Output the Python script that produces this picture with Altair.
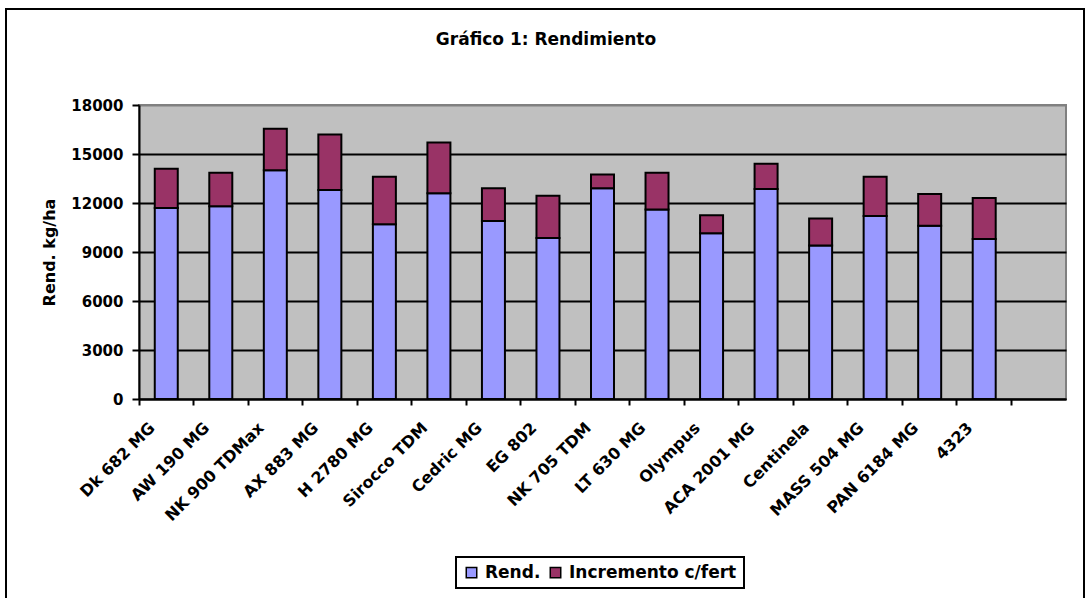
import altair as alt
import pandas as pd

categorias = ["Dk 682 MG", "AW 190 MG", "NK 900 TDMax", "AX 883 MG", "H 2780 MG",
              "Sirocco TDM", "Cedric MG", "EG 802", "NK 705 TDM", "LT 630 MG",
              "Olympus", "ACA 2001 MG", "Centinela", "MASS 504 MG", "PAN 6184 MG", "4323"]
rend = [11700, 11800, 14000, 12800, 10700, 12600, 10900, 9850, 12900, 11600,
        10150, 12850, 9400, 11200, 10600, 9800]
incremento = [2400, 2050, 2550, 3400, 2900, 3100, 2000, 2600, 850, 2250,
              1100, 1550, 1650, 2400, 1950, 2500]
series = ["Rend.", "Incremento c/fert"]
colores = ["#9999FF", "#993366"]
y_ticks = [0, 3000, 6000, 9000, 12000, 15000, 18000]

dominio_x = categorias + [" "]

rows = []
for c, r, i in zip(categorias, rend, incremento):
    rows.append({"cat": c, "serie": series[0], "valor": r, "orden": 0})
    rows.append({"cat": c, "serie": series[1], "valor": i, "orden": 1})
df = pd.DataFrame(rows)

FONT = "DejaVu Sans"

bars = alt.Chart(df).mark_bar(size=23, stroke="black", strokeWidth=2).encode(
    x=alt.X("cat:N", sort=dominio_x,
            scale=alt.Scale(domain=dominio_x, paddingInner=0, paddingOuter=0),
            axis=alt.Axis(title=None, labelAngle=-45, labelAlign="right", labelBaseline="middle",
                          bandPosition=0, labelPadding=20, labelOffset=-14,
                          labelFont=FONT, labelFontSize=16, labelFontWeight="bold",
                          labelColor="black", labelOverlap=False, tickSize=6, tickWidth=2,
                          tickColor="black", domainColor="black", domainWidth=2, grid=False)),
    y=alt.Y("valor:Q", stack="zero",
            scale=alt.Scale(domain=[0, 18000], nice=False),
            axis=alt.Axis(title="Rend. kg/ha", values=y_ticks, format="d",
                          titleFont=FONT, titleFontSize=16, titleFontWeight="bold",
                          titleColor="black", titlePadding=13,
                          labelFont=FONT, labelFontSize=15, labelFontWeight="bold",
                          labelColor="black", labelPadding=9, tickSize=7, tickWidth=2,
                          tickColor="black", domainColor="black", domainWidth=2,
                          grid=True, gridWidth=2,
                          gridColor={"condition": {"test": "datum.value >= 18000", "value": "#808080"},
                                     "value": "black"})),
    color=alt.Color("serie:N",
                    scale=alt.Scale(domain=series, range=colores),
                    legend=alt.Legend(title=None, orient="none", legendX=317, legendY=452,
                                      direction="horizontal", symbolType="square",
                                      symbolSize=110, symbolStrokeColor="black",
                                      symbolStrokeWidth=1.5, symbolOpacity=1,
                                      labelFont=FONT, labelFontSize=17, labelFontWeight="bold",
                                      labelColor="black", labelLimit=400, columnPadding=6,
                                      labelOffset=5, padding=7, strokeColor="black",
                                      fillColor="white")),
    order=alt.Order("orden:Q", sort="ascending"),
)

border = alt.Chart(pd.DataFrame({"k": [0]})).mark_rect(
    fillOpacity=0, stroke="black", strokeWidth=2
).encode(
    x=alt.value(-133), x2=alt.value(945), y=alt.value(-96), y2=alt.value(500)
)

title = alt.Chart(pd.DataFrame({"t": ["Gráfico 1: Rendimiento"]})).mark_text(
    font=FONT, fontSize=17, fontWeight="bold", color="black", align="center", baseline="middle"
).encode(
    text="t:N", x=alt.value(407), y=alt.value(-65)
)

chart = alt.layer(border, bars, title).properties(
    width=927, height=294,
    autosize=alt.AutoSizeParams(type="none"),
    padding={"left": 139, "top": 105, "right": 24, "bottom": 199},
    background="white",
).configure_view(
    fill="#C0C0C0", stroke="#808080", strokeWidth=2
).configure_legend(
    strokeWidth=2
)

chart.save("out.html", embed_options={"renderer": "svg", "actions": False})
